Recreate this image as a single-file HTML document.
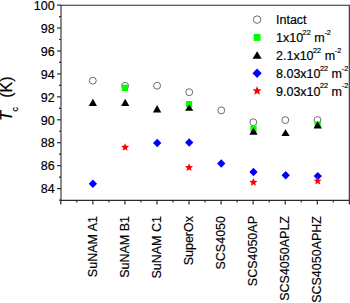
<!DOCTYPE html>
<html><head><meta charset="utf-8"><style>
html,body{margin:0;padding:0;background:#fff;}
svg{display:block;}
.t12{font-family:"Liberation Sans",sans-serif;font-size:12.5px;fill:#000;stroke:#000;stroke-width:0.18px;}
.t16{font-family:"Liberation Sans",sans-serif;font-size:16px;fill:#000;stroke:#000;stroke-width:0.2px;}
</style></head><body>
<svg width="350" height="303" viewBox="0 0 350 303">
<path d="M61.0,5.2 H349.3 V200.4 H61.0 Z" fill="none" stroke="#2a2a2a" stroke-width="1.1"/>
<line x1="59.00" y1="200.09" x2="61.00" y2="200.09" stroke="#2a2a2a" stroke-width="1.2"/>
<line x1="57.00" y1="188.62" x2="61.00" y2="188.62" stroke="#2a2a2a" stroke-width="1.2"/>
<text x="54.7" y="193.32" text-anchor="end" class="t12">84</text>
<line x1="59.00" y1="177.15" x2="61.00" y2="177.15" stroke="#2a2a2a" stroke-width="1.2"/>
<line x1="57.00" y1="165.68" x2="61.00" y2="165.68" stroke="#2a2a2a" stroke-width="1.2"/>
<text x="54.7" y="170.38" text-anchor="end" class="t12">86</text>
<line x1="59.00" y1="154.21" x2="61.00" y2="154.21" stroke="#2a2a2a" stroke-width="1.2"/>
<line x1="57.00" y1="142.74" x2="61.00" y2="142.74" stroke="#2a2a2a" stroke-width="1.2"/>
<text x="54.7" y="147.44" text-anchor="end" class="t12">88</text>
<line x1="59.00" y1="131.27" x2="61.00" y2="131.27" stroke="#2a2a2a" stroke-width="1.2"/>
<line x1="57.00" y1="119.80" x2="61.00" y2="119.80" stroke="#2a2a2a" stroke-width="1.2"/>
<text x="54.7" y="124.50" text-anchor="end" class="t12">90</text>
<line x1="59.00" y1="108.33" x2="61.00" y2="108.33" stroke="#2a2a2a" stroke-width="1.2"/>
<line x1="57.00" y1="96.86" x2="61.00" y2="96.86" stroke="#2a2a2a" stroke-width="1.2"/>
<text x="54.7" y="101.56" text-anchor="end" class="t12">92</text>
<line x1="59.00" y1="85.39" x2="61.00" y2="85.39" stroke="#2a2a2a" stroke-width="1.2"/>
<line x1="57.00" y1="73.92" x2="61.00" y2="73.92" stroke="#2a2a2a" stroke-width="1.2"/>
<text x="54.7" y="78.62" text-anchor="end" class="t12">94</text>
<line x1="59.00" y1="62.45" x2="61.00" y2="62.45" stroke="#2a2a2a" stroke-width="1.2"/>
<line x1="57.00" y1="50.98" x2="61.00" y2="50.98" stroke="#2a2a2a" stroke-width="1.2"/>
<text x="54.7" y="55.68" text-anchor="end" class="t12">96</text>
<line x1="59.00" y1="39.51" x2="61.00" y2="39.51" stroke="#2a2a2a" stroke-width="1.2"/>
<line x1="57.00" y1="28.04" x2="61.00" y2="28.04" stroke="#2a2a2a" stroke-width="1.2"/>
<text x="54.7" y="32.74" text-anchor="end" class="t12">98</text>
<line x1="59.00" y1="16.57" x2="61.00" y2="16.57" stroke="#2a2a2a" stroke-width="1.2"/>
<line x1="57.00" y1="5.10" x2="61.00" y2="5.10" stroke="#2a2a2a" stroke-width="1.2"/>
<text x="54.7" y="9.80" text-anchor="end" class="t12">100</text>
<line x1="60.80" y1="200.40" x2="60.80" y2="204.40" stroke="#2a2a2a" stroke-width="1.2"/>
<line x1="76.83" y1="200.40" x2="76.83" y2="202.40" stroke="#2a2a2a" stroke-width="1.2"/>
<line x1="92.86" y1="200.40" x2="92.86" y2="204.40" stroke="#2a2a2a" stroke-width="1.2"/>
<line x1="108.89" y1="200.40" x2="108.89" y2="202.40" stroke="#2a2a2a" stroke-width="1.2"/>
<line x1="124.92" y1="200.40" x2="124.92" y2="204.40" stroke="#2a2a2a" stroke-width="1.2"/>
<line x1="140.95" y1="200.40" x2="140.95" y2="202.40" stroke="#2a2a2a" stroke-width="1.2"/>
<line x1="156.98" y1="200.40" x2="156.98" y2="204.40" stroke="#2a2a2a" stroke-width="1.2"/>
<line x1="173.01" y1="200.40" x2="173.01" y2="202.40" stroke="#2a2a2a" stroke-width="1.2"/>
<line x1="189.04" y1="200.40" x2="189.04" y2="204.40" stroke="#2a2a2a" stroke-width="1.2"/>
<line x1="205.07" y1="200.40" x2="205.07" y2="202.40" stroke="#2a2a2a" stroke-width="1.2"/>
<line x1="221.10" y1="200.40" x2="221.10" y2="204.40" stroke="#2a2a2a" stroke-width="1.2"/>
<line x1="237.13" y1="200.40" x2="237.13" y2="202.40" stroke="#2a2a2a" stroke-width="1.2"/>
<line x1="253.16" y1="200.40" x2="253.16" y2="204.40" stroke="#2a2a2a" stroke-width="1.2"/>
<line x1="269.19" y1="200.40" x2="269.19" y2="202.40" stroke="#2a2a2a" stroke-width="1.2"/>
<line x1="285.22" y1="200.40" x2="285.22" y2="204.40" stroke="#2a2a2a" stroke-width="1.2"/>
<line x1="301.25" y1="200.40" x2="301.25" y2="202.40" stroke="#2a2a2a" stroke-width="1.2"/>
<line x1="317.28" y1="200.40" x2="317.28" y2="204.40" stroke="#2a2a2a" stroke-width="1.2"/>
<line x1="333.31" y1="200.40" x2="333.31" y2="202.40" stroke="#2a2a2a" stroke-width="1.2"/>
<line x1="349.34" y1="200.40" x2="349.34" y2="204.40" stroke="#2a2a2a" stroke-width="1.2"/>
<text transform="translate(97.06,216.0) rotate(-90)" text-anchor="end" class="t12">SuNAM A1</text>
<text transform="translate(129.12,216.0) rotate(-90)" text-anchor="end" class="t12">SuNAM B1</text>
<text transform="translate(161.18,216.0) rotate(-90)" text-anchor="end" class="t12">SuNAM C1</text>
<text transform="translate(193.24,216.0) rotate(-90)" text-anchor="end" class="t12">SuperOx</text>
<text transform="translate(225.30,216.0) rotate(-90)" text-anchor="end" class="t12">SCS4050</text>
<text transform="translate(257.36,216.0) rotate(-90)" text-anchor="end" class="t12">SCS4050AP</text>
<text transform="translate(289.42,216.0) rotate(-90)" text-anchor="end" class="t12">SCS4050APLZ</text>
<text transform="translate(321.48,216.0) rotate(-90)" text-anchor="end" class="t12">SCS4050APHZ</text>
<text transform="translate(11.9,121.0) rotate(-90)" class="t16" style="font-style:italic;font-size:16.5px">T</text>
<text transform="translate(18.1,111.6) rotate(-90)" class="t16" style="font-size:9px">c</text>
<text transform="translate(11.9,97.8) rotate(-90)" class="t16">(K)</text>
<circle cx="92.8" cy="80.7" r="3.45" fill="none" stroke="#6b6b6b" stroke-width="1"/>
<circle cx="125.1" cy="85.8" r="3.45" fill="none" stroke="#6b6b6b" stroke-width="1"/>
<circle cx="157.1" cy="85.7" r="3.45" fill="none" stroke="#6b6b6b" stroke-width="1"/>
<circle cx="189.2" cy="92.2" r="3.45" fill="none" stroke="#6b6b6b" stroke-width="1"/>
<circle cx="221.3" cy="110.4" r="3.45" fill="none" stroke="#6b6b6b" stroke-width="1"/>
<circle cx="253.3" cy="122.2" r="3.45" fill="none" stroke="#6b6b6b" stroke-width="1"/>
<circle cx="285.3" cy="120.1" r="3.45" fill="none" stroke="#6b6b6b" stroke-width="1"/>
<circle cx="317.5" cy="120.0" r="3.45" fill="none" stroke="#6b6b6b" stroke-width="1"/>
<rect x="121.90" y="84.70" width="6.2" height="6.4" fill="#00ff00"/>
<rect x="186.00" y="101.00" width="6.2" height="6.4" fill="#00ff00"/>
<rect x="250.40" y="125.70" width="6.2" height="6.4" fill="#00ff00"/>
<rect x="314.50" y="121.40" width="6.2" height="6.4" fill="#00ff00"/>
<path d="M92.90,98.80 L97.05,105.90 L88.75,105.90 Z" fill="#000"/>
<path d="M125.20,98.70 L129.35,105.90 L121.05,105.90 Z" fill="#000"/>
<path d="M157.10,105.00 L161.25,112.40 L152.95,112.40 Z" fill="#000"/>
<path d="M189.20,104.40 L193.35,110.80 L185.05,110.80 Z" fill="#000"/>
<path d="M253.50,127.80 L257.65,134.75 L249.35,134.75 Z" fill="#000"/>
<path d="M285.50,129.20 L289.65,136.10 L281.35,136.10 Z" fill="#000"/>
<path d="M317.70,121.20 L321.85,128.40 L313.55,128.40 Z" fill="#000"/>
<path d="M92.90,179.60 L97.05,183.80 L92.90,188.00 L88.75,183.80 Z" fill="#0000ff"/>
<path d="M157.20,138.75 L161.35,142.95 L157.20,147.15 L153.05,142.95 Z" fill="#0000ff"/>
<path d="M189.20,138.30 L193.35,142.50 L189.20,146.70 L185.05,142.50 Z" fill="#0000ff"/>
<path d="M221.25,159.30 L225.40,163.50 L221.25,167.70 L217.10,163.50 Z" fill="#0000ff"/>
<path d="M253.50,167.80 L257.65,172.00 L253.50,176.20 L249.35,172.00 Z" fill="#0000ff"/>
<path d="M285.70,171.10 L289.85,175.30 L285.70,179.50 L281.55,175.30 Z" fill="#0000ff"/>
<path d="M317.80,171.90 L321.95,176.10 L317.80,180.30 L313.65,176.10 Z" fill="#0000ff"/>
<polygon points="125.10,143.15 126.22,145.85 129.14,146.09 126.92,147.99 127.60,150.84 125.10,149.31 122.60,150.84 123.28,147.99 121.06,146.09 123.98,145.85" fill="#ff0000"/>
<polygon points="189.00,163.35 190.12,166.05 193.04,166.29 190.82,168.19 191.50,171.04 189.00,169.51 186.50,171.04 187.18,168.19 184.96,166.29 187.88,166.05" fill="#ff0000"/>
<polygon points="253.40,178.05 254.52,180.75 257.44,180.99 255.22,182.89 255.90,185.74 253.40,184.21 250.90,185.74 251.58,182.89 249.36,180.99 252.28,180.75" fill="#ff0000"/>
<polygon points="317.70,176.75 318.82,179.45 321.74,179.69 319.52,181.59 320.20,184.44 317.70,182.91 315.20,184.44 315.88,181.59 313.66,179.69 316.58,179.45" fill="#ff0000"/>
<circle cx="257.1" cy="19.6" r="3.75" fill="none" stroke="#6b6b6b" stroke-width="1"/>
<rect x="253.65" y="33.90" width="6.9" height="7.0" fill="#00ff00"/>
<path d="M257.10,51.20 L261.70,58.80 L252.50,58.80 Z" fill="#000"/>
<path d="M257.10,68.60 L261.70,73.30 L257.10,78.00 L252.50,73.30 Z" fill="#0000ff"/>
<polygon points="257.10,86.10 258.37,89.15 261.67,89.42 259.15,91.57 259.92,94.78 257.10,93.06 254.28,94.78 255.05,91.57 252.53,89.42 255.83,89.15" fill="#ff0000"/>
<text x="276.0" y="24.2" class="t12">Intact</text>
<text x="276.0" y="42.0" class="t12">1x10<tspan style="font-size:7.3px" dx="-0.5" dy="-7.2">22</tspan><tspan dy="7.2"> m</tspan><tspan style="font-size:7.3px" dx="-0.2" dy="-7.2">-2</tspan></text>
<text x="276.0" y="59.8" class="t12">2.1x10<tspan style="font-size:7.3px" dx="-0.5" dy="-7.2">22</tspan><tspan dy="7.2"> m</tspan><tspan style="font-size:7.3px" dx="-0.2" dy="-7.2">-2</tspan></text>
<text x="276.0" y="77.7" class="t12">8.03x10<tspan style="font-size:7.3px" dx="-0.5" dy="-7.2">22</tspan><tspan dy="7.2"> m</tspan><tspan style="font-size:7.3px" dx="-0.2" dy="-7.2">-2</tspan></text>
<text x="276.0" y="95.6" class="t12">9.03x10<tspan style="font-size:7.3px" dx="-0.5" dy="-7.2">22</tspan><tspan dy="7.2"> m</tspan><tspan style="font-size:7.3px" dx="-0.2" dy="-7.2">-2</tspan></text>
</svg>
</body></html>
